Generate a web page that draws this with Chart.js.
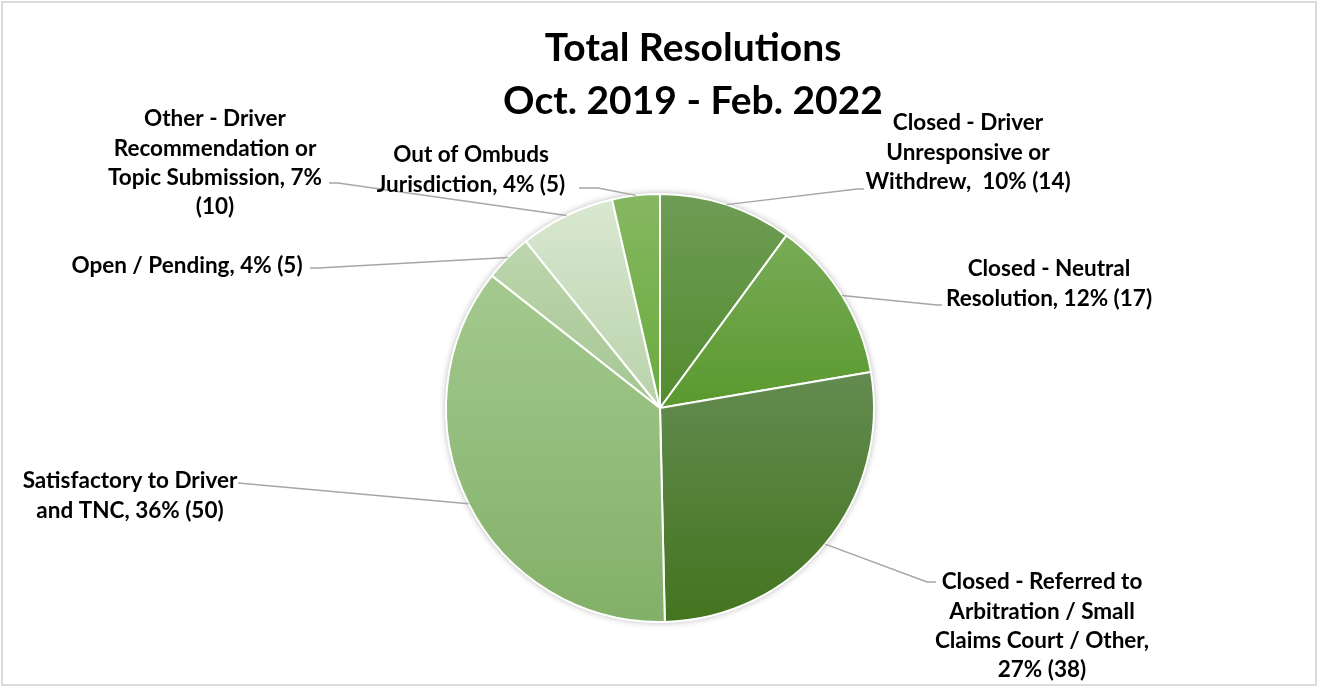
<!DOCTYPE html>
<html>
<head>
<meta charset="utf-8">
<script src="https://cdn.jsdelivr.net/npm/chart.js@4.4.1/dist/chart.umd.min.js"></script>
<style>
  html, body { margin: 0; padding: 0; background: #fff; }
  #wrap { width: 1318px; height: 687px; }
</style>
</head>
<body>
<div id="wrap"><canvas id="resChart" width="1318" height="687"></canvas></div>
<script>
const categories = [
  "Closed - Driver Unresponsive or Withdrew",
  "Closed - Neutral Resolution",
  "Closed - Referred to Arbitration / Small Claims Court / Other",
  "Satisfactory to Driver and TNC",
  "Open / Pending",
  "Other - Driver Recommendation or Topic Submission",
  "Out of Ombuds Jurisdiction"
];
const counts = [14, 17, 38, 50, 5, 10, 5];
const percents = [10, 12, 27, 36, 4, 7, 4];

// label text as it wraps in the picture
const labelLines = [
  ["Closed - Driver", "Unresponsive or", "Withdrew,  " + percents[0] + "% (" + counts[0] + ")"],
  ["Closed - Neutral", "Resolution, " + percents[1] + "% (" + counts[1] + ")"],
  ["Closed - Referred to", "Arbitration / Small", "Claims Court / Other,", percents[2] + "% (" + counts[2] + ")"],
  ["Satisfactory to Driver", "and TNC, " + percents[3] + "% (" + counts[3] + ")"],
  ["Open / Pending, " + percents[4] + "% (" + counts[4] + ")"],
  ["Other - Driver", "Recommendation or", "Topic Submission, " + percents[5] + "%", "(" + counts[5] + ")"],
  ["Out of Ombuds", "Jurisdiction, " + percents[6] + "% (" + counts[6] + ")"]
];
const titleLines = ["Total Resolutions", "Oct. 2019 - Feb. 2022"];

// styles / layout
const topColors    = ["#6e9c55", "#78ab57", "#648b51", "#a4c98f", "#bdd6ae", "#d9e8d1", "#86b762"];
const bottomColors = ["#538c2e", "#5a992e", "#43751e", "#82b068", "#a5c592", "#b9d2aa", "#68ac3b"];
const labelPos = [[968, 123], [1049, 269], [1042, 582], [130, 481], [187, 266], [215, 119], [471, 155]];
// leader: [elbow x, elbow y, end x, end y]
const leaders = [
  [857, 189, 864, 189],
  [937, 305, 942, 305],
  [927, 582, 936, 582],
  [238, 483, 238, 483],
  [318, 268, 310, 268],
  [338, 183, 329, 183],
  [598, 188, 579, 188]
];
const lineGap = 29.3;
const labelFont = "bold 22.5px Lato";
const titleFont = "bold 39px Lato";

const decor = {
  id: "decor",
  beforeDraw(chart) {
    const c = chart.ctx;
    c.save();
    c.fillStyle = "#fff";
    c.fillRect(0, 0, chart.width, chart.height);
    c.strokeStyle = "#d0d0d0";
    c.lineWidth = 1.5;
    c.strokeRect(2, 2, chart.width - 4, chart.height - 4);
    c.restore();
  },
  beforeDatasetsDraw(chart) {
    const c = chart.ctx;
    const meta = chart.getDatasetMeta(0);
    const a0 = meta.data[0];
    // soft shadow under the pie
    c.save();
    c.shadowColor = "rgba(0,0,0,0.35)";
    c.shadowBlur = 7;
    c.beginPath();
    c.arc(a0.x, a0.y, a0.outerRadius, 0, Math.PI * 2);
    c.fillStyle = "#fff";
    c.fill();
    c.restore();
    // vertical gradient per slice
    meta.data.forEach((arc, i) => {
      const { x, y, startAngle, endAngle, outerRadius } = arc;
      const ys = [y, y + outerRadius * Math.sin(startAngle), y + outerRadius * Math.sin(endAngle)];
      [-Math.PI / 2, Math.PI / 2, 3 * Math.PI / 2].forEach(a => {
        if (a > startAngle && a < endAngle) ys.push(y + outerRadius * Math.sin(a));
      });
      const g = c.createLinearGradient(0, Math.min(...ys), 0, Math.max(...ys));
      g.addColorStop(0, topColors[i]);
      g.addColorStop(1, bottomColors[i]);
      arc.options.backgroundColor = g;
    });
  },
  afterDraw(chart) {
    const c = chart.ctx;
    const meta = chart.getDatasetMeta(0);
    c.save();
    // leader lines
    c.strokeStyle = "#a6a6a6";
    c.lineWidth = 1.5;
    meta.data.forEach((arc, i) => {
      const mid = (arc.startAngle + arc.endAngle) / 2;
      const sx = arc.x + arc.outerRadius * Math.cos(mid);
      const sy = arc.y + arc.outerRadius * Math.sin(mid);
      const l = leaders[i];
      c.beginPath();
      c.moveTo(sx, sy);
      c.lineTo(l[0], l[1]);
      c.lineTo(l[2], l[3]);
      c.stroke();
    });
    // labels
    c.fillStyle = "#000";
    c.textAlign = "center";
    c.textBaseline = "middle";
    c.font = labelFont;
    labelLines.forEach((lines, i) => {
      lines.forEach((t, k) => c.fillText(t, labelPos[i][0], labelPos[i][1] + k * lineGap));
    });
    // title
    c.font = titleFont;
    c.fillText(titleLines[0], 693, 48);
    c.fillText(titleLines[1], 693, 101);
    c.restore();
  }
};

const ctx = document.getElementById("resChart").getContext("2d");
const chart = new Chart(ctx, {
  type: "pie",
  data: {
    labels: categories,
    datasets: [{
      data: counts,
      backgroundColor: bottomColors,
      borderColor: "#ffffff",
      borderWidth: 2,
      radius: 214
    }]
  },
  options: {
    responsive: false,
    animation: false,
    layout: { padding: { left: 2, top: 150, bottom: 21 } },
    plugins: {
      legend: { display: false },
      tooltip: { enabled: false }
    }
  },
  plugins: [decor]
});
</script>
</body>
</html>
